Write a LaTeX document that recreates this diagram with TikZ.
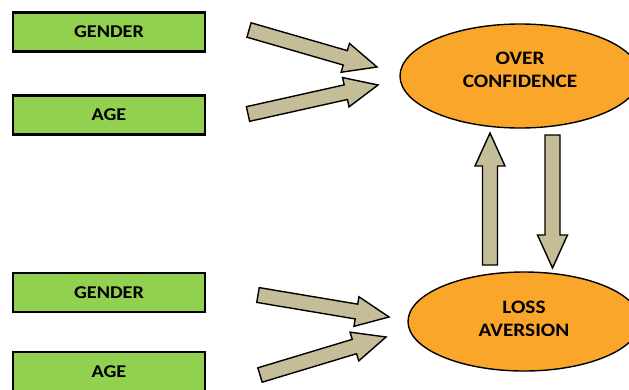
\documentclass[tikz,border=0pt]{standalone}
\usepackage{fontspec}
\newfontfamily\lblfont[FakeStretch=1.12]{Carlito}
\usetikzlibrary{shapes.geometric,calc}
\definecolor{boxgreen}{HTML}{92D050}
\definecolor{ovalorange}{HTML}{F9A62A}
\definecolor{arrowtan}{HTML}{C4BD97}
\tikzset{
  factor/.style={draw=black, line width=2.4pt, fill=boxgreen, minimum width=192pt,
    minimum height=39pt, inner sep=0pt, font=\lblfont\bfseries\fontsize{18}{22}\selectfont},
  bias/.style={ellipse, draw=black, line width=1.4pt, fill=ovalorange, inner sep=0pt},
  biastext/.style={align=center, inner sep=0pt, font=\lblfont\bfseries\fontsize{19}{23}\selectfont},
  blockarr/.style={draw=black, line width=1.4pt, fill=arrowtan}
}
\begin{document}
\begin{tikzpicture}[x=1pt, y=-1pt]
    \clip (0, 0) rectangle (629, 389);
    \fill[white] (0, 0) rectangle (629, 389);
    \node[factor] (gender1) at (109, 32) {GENDER};
    \node[factor] (age1) at (109, 115) {AGE};
    \node[factor] (gender2) at (109, 292.5) {GENDER};
    \node[factor] (age2) at (109, 371.5) {AGE};
    \node[bias, minimum width=240pt, minimum height=104pt] (over) at (520, 76) {};
    \node[biastext] (over text) at ($(over)+(0, -6)$) {OVER\\CONFIDENCE};
    \node[bias, minimum width=232pt, minimum height=99pt] (loss) at (524, 321.5) {};
    \node[biastext] (loss text) at ($(loss)+(0, -3)$) {LOSS\\AVERSION};
    \coordinate (gender1 tail) at (249, 30);
    \coordinate (gender1 tip) at (377, 67);
    \coordinate (age1 tail) at (248, 114);
    \coordinate (age1 tip) at (378, 85);
    \coordinate (gender2 tail) at (258, 295);
    \coordinate (gender2 tip) at (389, 317);
    \coordinate (age2 tail) at (260, 375);
    \coordinate (age2 tip) at (386, 337);
    \coordinate (up tail) at (490, 265);
    \coordinate (up tip) at (490, 133);
    \coordinate (down tail) at (552.5, 135);
    \coordinate (down tip) at (552.5, 268);
    \foreach \s in {gender1, age1, gender2, age2, up, down} {
        \coordinate (hb) at ($(\s\space tip)!33pt!(\s\space tail)$);
        \draw[blockarr] ($(\s\space tail)!7.5pt!90:(\s\space tip)$) -- ($(hb)!7.5pt!-90:(\s\space tail)$)
            -- ($(hb)!15pt!-90:(\s\space tail)$) -- (\s\space tip) -- ($(hb)!15pt!90:(\s\space tail)$)
            -- ($(hb)!7.5pt!90:(\s\space tail)$) -- ($(\s\space tail)!7.5pt!-90:(\s\space tip)$) -- cycle;
    }
\end{tikzpicture}
\end{document}
